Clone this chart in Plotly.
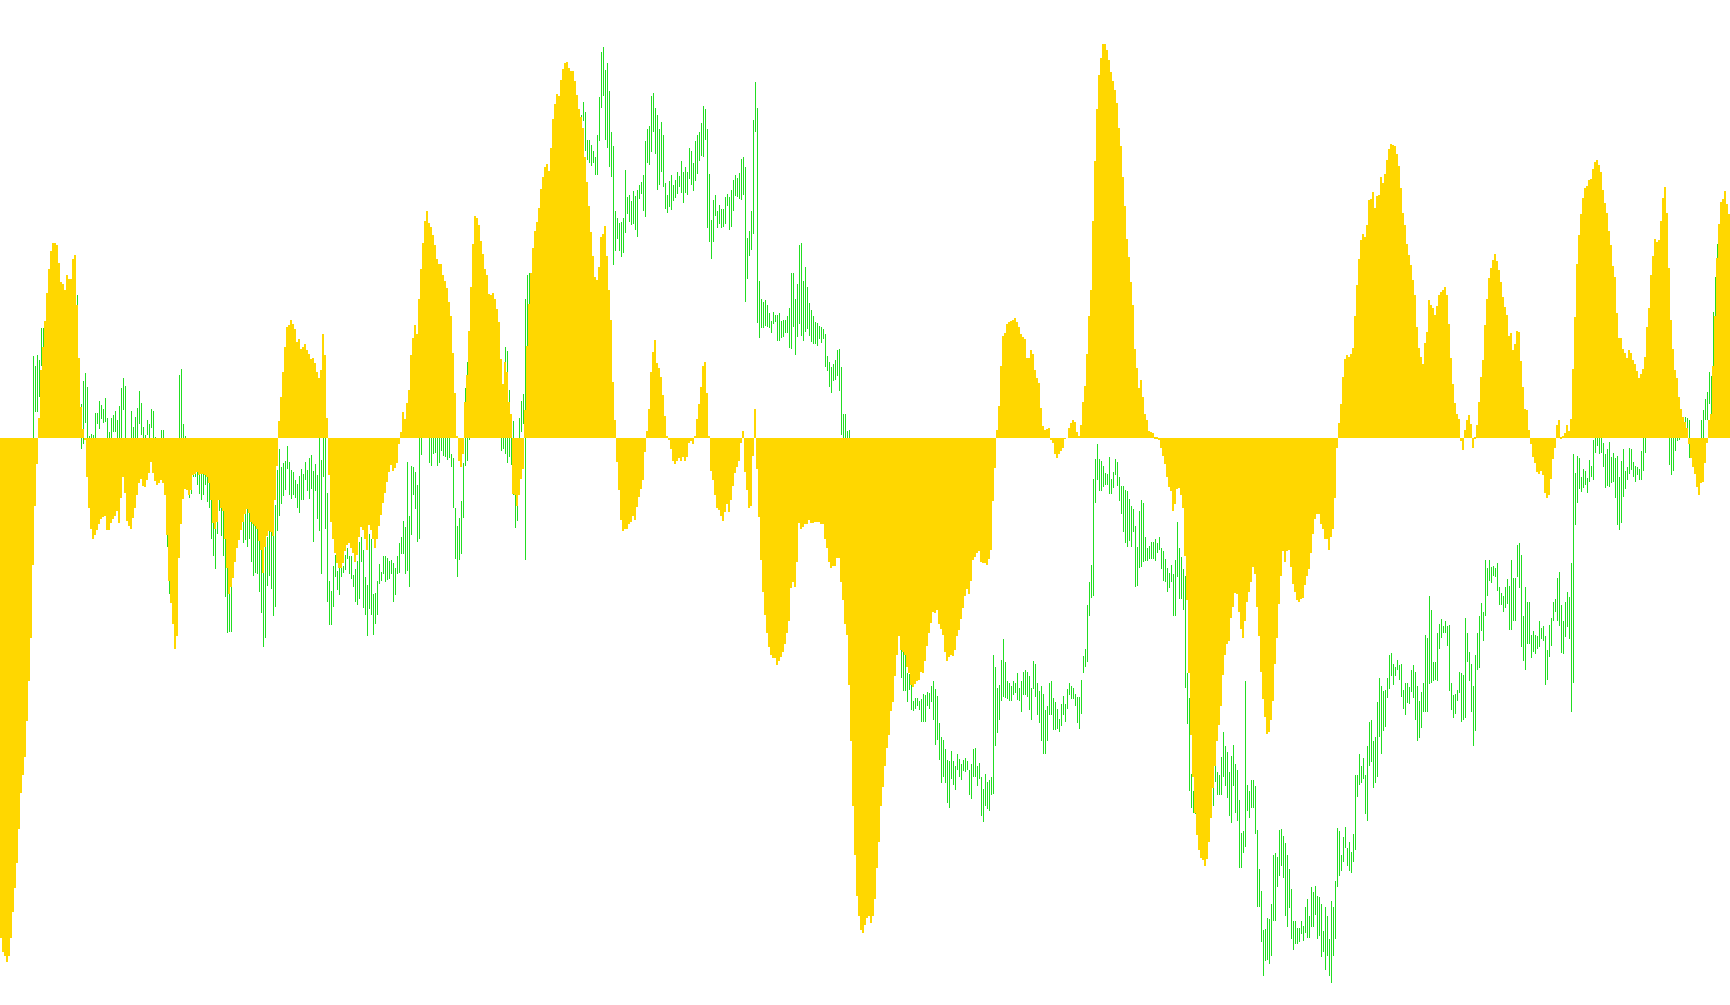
import plotly.graph_objects as go

# Oscillator (yellow histogram), one value per bar
momentum = [
    -807,-830,-837,-847,-837,-807,-765,-727,-687,-632,-573,-544,-515,-457,-393,-323,-205,-110,-42,33,
    110,148,190,235,274,302,316,316,312,283,252,249,240,264,257,257,290,296,216,130,
    50,15,-2,-62,-112,-147,-162,-157,-148,-138,-130,-127,-126,-149,-149,-137,-131,-125,-117,-137,
    -97,-62,-88,-133,-142,-147,-129,-112,-91,-73,-66,-77,-79,-67,-56,-38,-56,-69,-75,-72,
    -67,-73,-92,-157,-230,-267,-301,-340,-319,-193,-139,-98,-82,-84,-92,-83,-60,-58,-55,-60,
    -58,-58,-60,-62,-72,-100,-137,-146,-136,-100,-113,-118,-162,-210,-252,-240,-226,-200,-178,-164,
    -149,-136,-123,-114,-120,-135,-139,-141,-146,-166,-180,-217,-176,-158,-150,-152,-158,-100,-44,28,
    67,107,148,180,183,191,185,177,155,161,145,148,152,142,136,128,130,122,107,98,
    111,169,135,33,-60,-135,-163,-186,-202,-210,-210,-202,-182,-173,-170,-178,-185,-200,-189,-160,
    -143,-148,-163,-180,-140,-148,-163,-178,-163,-142,-124,-105,-88,-70,-54,-43,-53,-48,-40,-10,
    10,42,31,57,78,135,162,183,169,225,274,316,351,368,348,342,329,312,290,282,
    282,264,254,243,220,198,138,73,4,-37,-47,-25,59,102,173,245,314,359,356,345,
    319,298,274,264,233,232,235,225,209,188,128,88,123,107,59,39,-90,-92,-110,-92,
    -66,-50,45,150,217,267,307,335,349,372,403,422,439,443,432,469,516,540,557,553,
    579,597,607,608,599,593,594,578,555,533,519,502,455,414,375,333,295,261,256,277,
    325,330,343,295,240,191,91,29,-39,-83,-132,-150,-146,-147,-138,-135,-126,-132,-111,-95,
    -82,-67,-22,12,47,107,139,159,122,114,99,70,36,4,-3,-18,-37,-42,-37,-32,
    -36,-30,-37,-30,-7,-5,-10,4,31,55,83,117,123,73,4,-53,-67,-92,-113,-116,
    -126,-133,-119,-106,-119,-100,-77,-56,-46,-37,-7,12,-55,-83,-112,-110,-28,47,-50,-127,
    -197,-248,-286,-315,-337,-350,-355,-355,-367,-360,-353,-345,-333,-315,-295,-242,-233,-240,-200,-137,
    -146,-143,-138,-138,-132,-137,-137,-135,-135,-135,-139,-139,-163,-178,-200,-209,-207,-207,-194,-194,
    -232,-262,-300,-318,-398,-490,-595,-673,-740,-772,-795,-800,-787,-775,-773,-783,-772,-745,-695,-653,
    -595,-563,-530,-501,-480,-441,-427,-385,-350,-320,-343,-345,-350,-370,-380,-398,-402,-397,-393,-390,
    -378,-380,-360,-336,-315,-298,-280,-282,-278,-300,-308,-318,-345,-360,-353,-350,-352,-342,-320,-310,
    -292,-275,-255,-244,-252,-230,-197,-192,-185,-182,-200,-202,-202,-205,-195,-180,-102,-48,13,52,
    117,165,170,185,188,190,192,194,188,180,169,163,161,130,130,142,137,110,97,89,
    49,20,13,15,17,-3,-7,-25,-32,-26,-20,-16,-1,0,17,25,30,26,10,4,
    22,59,85,137,197,240,352,448,532,588,615,638,637,628,612,592,577,563,542,502,
    472,422,375,322,293,252,216,144,114,82,94,66,40,29,12,10,8,2,2,-2,
    -15,-28,-41,-62,-79,-86,-118,-107,-82,-80,-92,-113,-190,-262,-380,-480,-547,-605,-642,-665,
    -678,-682,-692,-680,-653,-613,-565,-530,-490,-463,-433,-383,-350,-333,-328,-290,-272,-250,-252,-281,
    -308,-323,-295,-265,-248,-233,-208,-220,-272,-320,-378,-422,-450,-478,-475,-455,-425,-365,-323,-268,
    -223,-182,-200,-182,-180,-208,-235,-248,-262,-264,-260,-258,-237,-223,-212,-185,-155,-130,-122,-123,
    -138,-146,-162,-162,-180,-160,-146,-97,-15,24,55,99,128,135,131,136,146,197,247,290,
    320,330,326,345,385,387,398,372,392,394,422,413,427,450,468,476,474,472,460,440,
    405,364,345,314,297,280,256,232,180,146,131,120,154,172,224,215,211,199,214,232,
    236,240,244,232,185,130,88,57,39,31,-5,-19,13,30,38,23,-16,2,21,59,
    99,127,183,225,259,275,288,298,287,272,253,228,212,200,166,171,142,152,173,172,
    125,83,47,45,13,-10,-30,-40,-55,-57,-53,-60,-88,-97,-92,-66,-34,-16,21,30,
    2,4,8,21,12,31,112,196,282,329,362,388,404,408,418,419,435,447,450,442,
    430,402,380,364,335,312,279,261,203,162,162,145,138,130,143,138,127,120,109,97,
    104,112,131,180,211,264,295,322,318,321,351,388,406,364,276,191,144,110,97,67,
    47,34,27,17,-10,-32,-47,-57,-78,-92,-73,-70,-40,-8,30,40,117,198,291,346,
    382,387,400,379,362,
]

# Price range per bar (green lines): high and low
price_high = [
    1300,1295,1290,1300,1310,1310,1320,1330,1335,1335,1338,1338,1338,1338,1338,1338,1473,1457,1475,1467,
    1518,1518,1520,1550,1580,1600,1620,1630,1620,1600,1580,1570,1560,1580,1580,1570,1600,1610,1572,1460,
    1395,1433,1446,1423,1343,1347,1345,1381,1381,1400,1394,1387,1405,1373,1350,1373,1378,1384,1370,1392,
    1421,1437,1425,1330,1320,1384,1358,1374,1389,1416,1397,1358,1345,1370,1363,1387,1384,1342,1335,1330,
    1353,1353,1320,1240,1150,1130,1120,1100,1130,1442,1452,1363,1344,1300,1280,1280,1300,1300,1300,1300,
    1300,1300,1300,1290,1280,1260,1220,1210,1220,1255,1240,1235,1200,1150,1110,1120,1180,1200,1210,1220,
    1210,1220,1230,1240,1230,1220,1210,1210,1205,1190,1170,1140,1170,1180,1195,1195,1190,1232,1289,1323,
    1294,1300,1303,1328,1302,1289,1285,1273,1266,1279,1290,1282,1302,1288,1308,1313,1287,1298,1281,1360,
    1305,1380,1370,1252,1110,1093,1134,1152,1125,1130,1130,1134,1152,1163,1150,1149,1119,1128,1142,1172,
    1180,1160,1116,1103,1185,1177,1089,1090,1110,1137,1124,1150,1150,1147,1142,1144,1139,1130,1149,1170,
    1180,1207,1197,1302,1215,1295,1294,1286,1264,1360,1370,1400,1410,1405,1380,1375,1370,1375,1370,1365,
    1370,1370,1365,1360,1360,1315,1308,1227,1198,1211,1238,1300,1422,1463,1400,1440,1445,1450,1455,1450,
    1440,1445,1440,1430,1425,1430,1425,1420,1415,1410,1380,1390,1488,1481,1418,1380,1368,1280,1240,1372,
    1400,1412,1565,1604,1607,1580,1620,1650,1670,1690,1710,1730,1750,1760,1760,1780,1820,1850,1870,1880,
    1900,1910,1920,1920,1910,1910,1905,1900,1880,1865,1863,1883,1867,1822,1822,1814,1805,1795,1830,1892,
    1964,1973,1935,1947,1902,1835,1812,1707,1696,1688,1689,1696,1774,1730,1733,1724,1740,1732,1741,1750,
    1754,1766,1821,1840,1845,1893,1898,1874,1862,1840,1851,1830,1753,1733,1756,1766,1749,1758,1770,1764,
    1788,1770,1779,1770,1810,1805,1785,1820,1830,1835,1850,1877,1873,1840,1767,1693,1725,1733,1708,1717,
    1711,1710,1730,1735,1730,1742,1757,1765,1761,1769,1791,1795,1779,1664,1675,1707,1855,1916,1874,1595,
    1565,1560,1564,1555,1543,1530,1544,1539,1539,1542,1530,1531,1532,1538,1550,1607,1608,1565,1590,1652,
    1656,1594,1617,1585,1559,1547,1538,1528,1526,1522,1520,1516,1508,1473,1463,1455,1460,1467,1482,1484,
    1455,1380,1380,1352,1354,1320,1300,1270,1240,1220,1200,1180,1170,1150,1130,1120,1110,1100,1090,1070,
    1060,1050,1040,1040,1030,1020,1010,1020,1050,1070,1010,1005,990,960,959,942,915,920,920,915,
    918,927,925,930,928,940,948,935,923,880,857,853,838,820,818,835,818,810,830,822,
    813,820,823,818,804,813,838,840,810,815,792,773,797,785,787,793,990,970,937,942,
    982,1015,978,947,945,940,947,945,960,937,947,962,965,962,955,937,980,975,945,932,
    940,927,900,907,945,947,920,913,903,887,910,923,910,935,945,940,937,927,922,922,
    950,988,1000,1070,1108,1135,1275,1307,1330,1307,1303,1295,1284,1282,1310,1275,1285,1307,1302,1277,
    1263,1263,1257,1255,1242,1230,1225,1198,1164,1222,1240,1235,1180,1162,1166,1173,1172,1177,1170,1180,
    1162,1157,1145,1130,1123,1135,1120,1143,1205,1163,1148,1129,1117,960,920,797,770,755,780,770,
    760,770,750,760,770,770,800,830,800,795,825,865,843,833,800,827,845,813,803,755,
    702,705,948,780,770,787,788,778,707,643,608,545,547,565,563,587,667,670,663,707,
    708,697,685,667,643,612,560,560,548,548,560,552,582,595,568,615,607,616,600,598,
    587,543,582,567,530,592,582,625,710,705,667,695,712,677,687,672,700,795,795,830,
    810,823,795,843,882,885,850,857,913,953,940,932,933,953,990,993,975,970,982,973,
    975,933,945,945,938,965,973,962,940,915,930,945,1022,1017,1085,1062,978,978,1025,1040,
    1048,1037,1045,1037,1038,945,925,927,933,962,960,957,1050,1025,995,975,940,990,1025,1053,
    1074,1060,1143,1130,1143,1132,1134,1130,1138,1100,1090,1085,1100,1113,1102,1143,1114,1114,1168,1171,
    1151,1053,1100,1075,1075,1022,1028,1022,1020,1045,1033,1037,1020,998,1038,1050,1075,1080,1114,1124,
    1070,1045,1075,1092,1084,1138,1315,1284,1311,1308,1278,1290,1287,1276,1305,1295,1337,1360,1360,1360,
    1360,1332,1315,1323,1334,1310,1317,1308,1312,1277,1303,1322,1287,1293,1325,1322,1302,1295,1293,1290,
    1319,1360,1355,1380,1385,1390,1390,1395,1395,1390,1395,1400,1400,1390,1360,1360,1355,1350,1355,1360,
    1365,1370,1375,1372,1370,1335,1330,1320,1300,1300,1370,1385,1403,1415,1447,1440,1544,1600,1654,1670,
    1700,1710,1720,1700,1690,
]

price_low = [
    1220,1210,1200,1210,1220,1230,1240,1250,1260,1270,1280,1280,1285,1290,1295,1300,1300,1382,1382,1407,
    1457,1460,1460,1480,1500,1520,1540,1550,1540,1530,1520,1510,1500,1520,1510,1500,1530,1540,1500,1400,
    1322,1330,1365,1310,1310,1310,1310,1310,1363,1355,1371,1364,1367,1310,1310,1310,1350,1350,1310,1310,
    1310,1385,1310,1280,1260,1310,1310,1310,1310,1363,1345,1310,1310,1346,1310,1357,1310,1310,1300,1290,
    1310,1310,1260,1165,1088,1080,1050,1020,1040,1310,1310,1310,1310,1260,1243,1250,1278,1277,1265,1250,
    1240,1248,1265,1237,1228,1177,1150,1128,1185,1222,1182,1150,1083,1025,1027,1027,1120,1150,1170,1180,
    1195,1170,1175,1165,1178,1140,1117,1122,1120,1092,1057,1003,1017,1101,1118,1097,1052,1067,1190,1215,
    1233,1247,1257,1290,1248,1242,1248,1243,1227,1219,1240,1240,1273,1254,1242,1258,1172,1254,1209,1190,
    1120,1278,1193,1075,1038,1038,1067,1115,1095,1086,1115,1122,1127,1145,1120,1112,1099,1076,1070,1080,
    1140,1065,1054,1020,1064,1054,1022,1040,1054,1104,1110,1120,1108,1111,1112,1120,1076,1087,1120,1123,
    1153,1153,1120,1125,1099,1183,1248,1225,1172,1177,1313,1345,1350,1345,1300,1295,1314,1317,1295,1300,
    1320,1312,1310,1305,1308,1293,1227,1145,1115,1143,1153,1211,1295,1303,1338,1360,1365,1370,1375,1370,
    1360,1355,1350,1350,1345,1350,1345,1345,1345,1345,1320,1322,1314,1300,1310,1297,1248,1195,1207,1300,
    1350,1363,1143,1488,1550,1500,1540,1570,1590,1610,1630,1650,1670,1680,1680,1700,1740,1770,1790,1800,
    1820,1830,1840,1850,1840,1830,1835,1840,1830,1825,1840,1853,1805,1790,1785,1780,1785,1765,1765,1820,
    1874,1893,1822,1810,1778,1762,1620,1642,1662,1643,1633,1640,1672,1702,1690,1684,1687,1676,1665,1727,
    1735,1708,1697,1785,1782,1802,1835,1799,1741,1749,1770,1747,1711,1704,1714,1709,1724,1728,1735,1746,
    1736,1720,1737,1734,1759,1750,1740,1756,1768,1788,1797,1795,1822,1680,1657,1630,1657,1700,1680,1687,
    1680,1682,1687,1716,1676,1682,1708,1732,1730,1727,1725,1733,1560,1597,1634,1645,1670,1835,1526,1502,
    1518,1519,1521,1520,1518,1510,1525,1528,1497,1497,1502,1503,1510,1510,1486,1485,1520,1475,1503,1525,
    1506,1497,1512,1517,1506,1495,1493,1492,1490,1500,1494,1500,1455,1448,1423,1414,1433,1434,1440,1417,
    1345,1335,1330,1330,1330,1260,1220,1200,1170,1140,1120,1100,1080,1060,1050,1040,1020,1010,1000,990,
    980,970,960,950,940,940,930,960,995,1025,952,932,932,913,933,900,899,902,907,900,
    882,882,882,907,903,913,885,845,853,820,783,793,783,750,743,790,780,772,803,793,
    787,802,800,803,763,757,793,793,778,790,730,720,745,740,737,763,765,843,863,885,
    915,922,920,918,915,915,925,928,917,915,898,925,925,922,900,885,935,922,892,880,
    850,830,830,850,893,893,868,868,870,865,875,892,882,902,925,918,918,907,880,870,
    895,960,970,978,1052,1082,1085,1235,1273,1255,1255,1262,1264,1265,1250,1250,1260,1280,1263,1238,
    1218,1188,1170,1165,1174,1164,1188,1100,1102,1130,1132,1140,1142,1142,1145,1145,1145,1142,1155,1160,
    1128,1110,1108,1092,1098,1107,1053,1053,1115,1080,1080,1062,937,878,770,743,735,732,710,700,
    690,680,670,680,710,735,745,785,763,763,763,793,778,758,730,718,778,735,722,645,
    645,670,680,738,727,743,743,700,583,583,525,470,495,497,490,503,560,560,615,633,
    648,630,568,550,580,530,513,523,523,525,538,528,540,533,533,550,550,570,530,535,
    502,510,480,503,470,460,503,530,615,633,640,655,678,648,640,638,655,675,760,780,
    783,790,733,722,810,817,775,782,793,857,830,867,873,920,935,955,942,955,965,950,
    922,903,893,912,910,930,920,885,850,855,872,898,898,898,943,945,948,950,947,1000,
    1017,1025,1025,1005,932,900,888,895,915,928,882,885,888,978,947,897,843,867,965,968,
    1028,1012,1052,1085,1110,1106,1117,1115,1093,1070,1070,1060,1065,1072,1030,1030,1045,1045,1115,1098,
    1002,980,965,1007,1008,985,995,992,1000,1002,1015,1012,942,950,987,1005,1045,1060,1045,1037,
    993,992,1018,1035,1015,898,945,1200,1235,1258,1253,1260,1265,1252,1270,1278,1272,1316,1328,1315,
    1316,1294,1260,1263,1262,1267,1270,1243,1200,1192,1203,1245,1258,1273,1282,1288,1277,1270,1280,1272,
    1272,1287,1317,1345,1350,1350,1352,1355,1355,1350,1355,1355,1350,1345,1297,1280,1287,1320,1335,1337,
    1340,1340,1345,1350,1308,1310,1295,1285,1265,1260,1335,1338,1370,1370,1395,1380,1455,1535,1630,1620,
    1640,1660,1670,1650,1640,
]

bar_index = list(range(len(momentum)))

fig = go.Figure()

# Green price range lines (drawn first, underneath)
fig.add_trace(go.Bar(
    x=[i + 0.25 for i in bar_index],
    base=price_low,
    y=[h - l for h, l in zip(price_high, price_low)],
    width=0.5,
    marker=dict(color="#22DD22", line=dict(width=0)),
    yaxis="y",
    hoverinfo="skip",
))

# Yellow oscillator histogram (on top)
fig.add_trace(go.Bar(
    x=bar_index,
    y=momentum,
    width=1.0,
    marker=dict(color="#FFD700", line=dict(width=0)),
    yaxis="y2",
    hoverinfo="skip",
))

fig.update_layout(
    width=1730,
    height=1005,
    margin=dict(l=0, r=0, t=0, b=0, pad=0),
    paper_bgcolor="white",
    plot_bgcolor="white",
    showlegend=False,
    barmode="overlay",
    bargap=0,
    xaxis=dict(range=[-0.5, len(momentum) - 0.5], visible=False, fixedrange=True),
    yaxis=dict(range=[423.9, 2048.5], visible=False, fixedrange=True),
    yaxis2=dict(range=[-916.1, 708.5], overlaying="y", visible=False, fixedrange=True),
)

fig.write_html(
    "out.html",
    config={"displayModeBar": False},
    post_script="document.body.style.margin='0';document.body.style.overflow='hidden';",
)
